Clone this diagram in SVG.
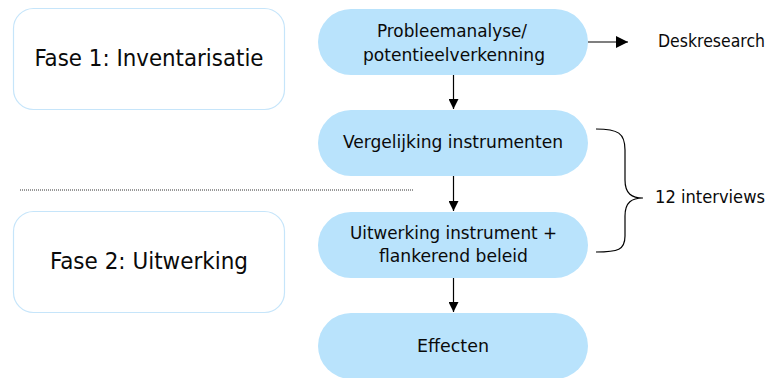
<svg xmlns="http://www.w3.org/2000/svg" width="772" height="378" viewBox="0 0 772 378">
  <defs>
    <marker id="arrow" viewBox="0 0 10 10" refX="10" refY="5" markerWidth="10" markerHeight="10" markerUnits="userSpaceOnUse" orient="auto">
      <path d="M0,0 L10,5 L0,10 Z" fill="#000"/>
    </marker>
    <marker id="arrowWide" viewBox="0 0 12 12" refX="12" refY="6" markerWidth="12" markerHeight="12" markerUnits="userSpaceOnUse" orient="auto">
      <path d="M0,0 L12,6 L0,12 Z" fill="#000"/>
    </marker>
  </defs>
  <style>
    text { font-family: "DejaVu Sans Condensed", "DejaVu Sans", sans-serif; font-stretch: condensed; fill: #0a0a0a; }
    .phase rect { fill: #fff; stroke: #c6e5fa; stroke-width: 1.2; }
    .phase text { font-size: 23.5px; text-anchor: middle; }
    .step rect { fill: #b9e3fc; }
    .step text { font-size: 17px; text-anchor: middle; }
    .note { font-size: 17px; }
    .conn line, .conn path { stroke: #000; stroke-width: 1.2; fill: none; }
    .divider { stroke: #333; stroke-width: 1; stroke-dasharray: 1 1; }
  </style>
  <rect width="772" height="378" fill="#fff"/>

  <!-- phases -->
  <g id="fase1" class="phase">
    <rect x="13.5" y="8.5" width="271" height="101" rx="20"/>
    <text x="149" y="66" textLength="229" lengthAdjust="spacingAndGlyphs">Fase 1: Inventarisatie</text>
  </g>
  <g id="fase2" class="phase">
    <rect x="13.5" y="211.5" width="271" height="101" rx="20"/>
    <text x="149" y="269" textLength="198" lengthAdjust="spacingAndGlyphs">Fase 2: Uitwerking</text>
  </g>

  <line class="divider" x1="20" y1="190" x2="413" y2="190"/>

  <!-- process steps -->
  <g id="probleemanalyse" class="step">
    <rect x="318" y="9" width="270" height="66" rx="33"/>
    <text x="452" y="37" textLength="150" lengthAdjust="spacingAndGlyphs">Probleemanalyse/</text>
    <text x="454" y="61" textLength="182" lengthAdjust="spacingAndGlyphs">potentieelverkenning</text>
  </g>
  <g id="vergelijking" class="step">
    <rect x="318" y="110" width="270" height="66" rx="33"/>
    <text x="453" y="148" textLength="220" lengthAdjust="spacingAndGlyphs">Vergelijking instrumenten</text>
  </g>
  <g id="uitwerking" class="step">
    <rect x="318" y="212" width="270" height="66" rx="33"/>
    <text x="453.5" y="239" textLength="207" lengthAdjust="spacingAndGlyphs">Uitwerking instrument +</text>
    <text x="453.5" y="262" textLength="149" lengthAdjust="spacingAndGlyphs">flankerend beleid</text>
  </g>
  <g id="effecten" class="step">
    <rect x="318" y="313" width="270" height="66" rx="33"/>
    <text x="453" y="352" textLength="72" lengthAdjust="spacingAndGlyphs">Effecten</text>
  </g>

  <!-- side notes -->
  <g id="deskresearch">
    <text class="note" x="658" y="47" textLength="107" lengthAdjust="spacingAndGlyphs">Deskresearch</text>
  </g>
  <g id="interviews">
    <text class="note" x="655" y="203" textLength="110" lengthAdjust="spacingAndGlyphs">12 interviews</text>
  </g>

  <!-- connectors -->
  <g id="connectors" class="conn">
    <line x1="588" y1="42" x2="628" y2="42" marker-end="url(#arrowWide)"/>
    <line x1="453.5" y1="75" x2="453.5" y2="109" marker-end="url(#arrow)"/>
    <line x1="453.5" y1="176" x2="453.5" y2="211" marker-end="url(#arrow)"/>
    <line x1="453.5" y1="278" x2="453.5" y2="312" marker-end="url(#arrow)"/>
    <!-- curly brace spanning the two interview steps -->
    <path d="M596,129 C618,129 625,133 625,150 L625,180 C625,194 632,198 643,198 C632,198 625,202 625,216 L625,236 C625,250 618,252 596,252"/>
  </g>
</svg>
